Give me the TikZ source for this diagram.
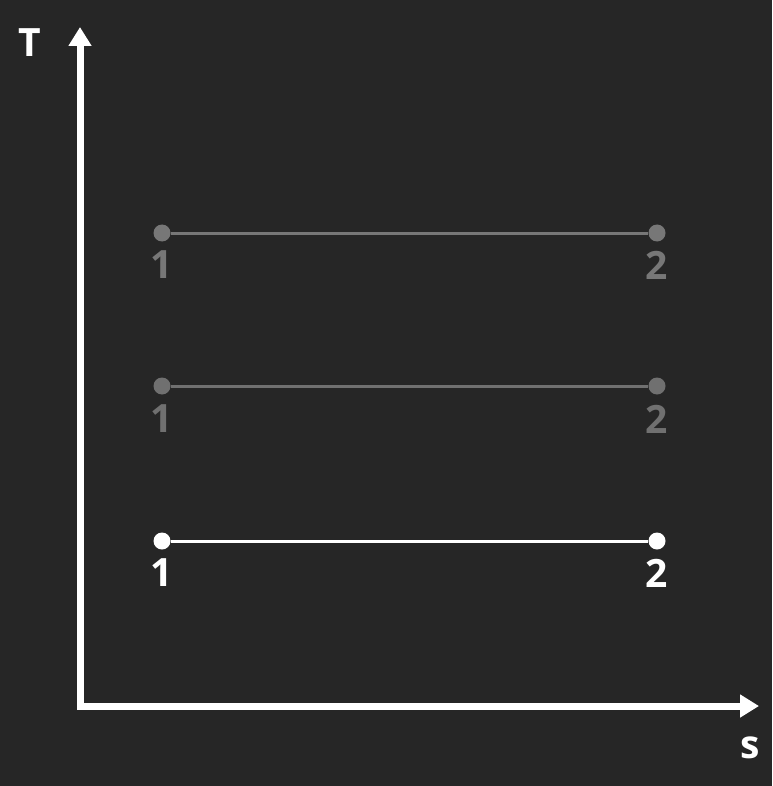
\documentclass[tikz,border=0pt]{standalone}
\usepackage{fontspec}
\setmainfont{Open Sans}
\usetikzlibrary{arrows.meta}
\definecolor{bg}{HTML}{262626}
\definecolor{dim}{HTML}{777777}
\definecolor{dimb}{HTML}{707070}
\begin{document}
\begin{tikzpicture}[x=1pt,y=-1pt,
  axis/.style={draw=white,line width=7pt,line join=miter,
    arrows={Triangle[length=19pt,width=22pt]-Triangle[length=19pt,width=22pt]}},
  pt/.style={circle,fill=#1,inner sep=0pt,minimum size=17pt},
  seg/.style={draw=#1,line width=3pt},
  lab/.style={text=#1,font=\fontsize{39}{40}\selectfont\bfseries,inner sep=0pt},
]
\fill[bg] (0,0) rectangle (772,786);
\useasboundingbox (0,0) rectangle (772,786);
\draw[axis] (80,27) -- (80,706) -- (759,706);
\node[lab=white] (T) at (30,43) {T};
\node[lab=white] (S) at (750,748) {s};
% top
\node[pt=dim] (a1) at (162,233) {};
\node[pt=dim] (a2) at (657,233) {};
\draw[seg=dim] (a1) -- (a2);
\node[lab=dim] (la1) at (162,265) {1};
\node[lab=dim] (la2) at (657,265) {2};
% middle
\node[pt=dimb] (b1) at (162,386) {};
\node[pt=dimb] (b2) at (657,386) {};
\draw[seg=dimb] (b1) -- (b2);
\node[lab=dimb] (lb1) at (162,419) {1};
\node[lab=dimb] (lb2) at (657,419) {2};
% bottom
\node[pt=white] (c1) at (162,541) {};
\node[pt=white] (c2) at (657,541) {};
\draw[seg=white] (c1) -- (c2);
\node[lab=white] (lc1) at (162,573) {1};
\node[lab=white] (lc2) at (657,573) {2};
\end{tikzpicture}
\end{document}
